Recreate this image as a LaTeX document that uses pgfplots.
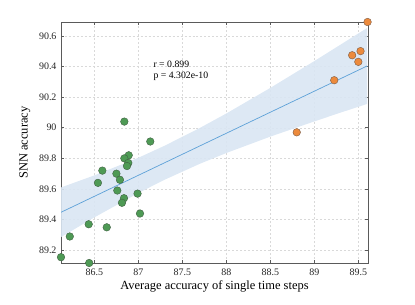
\documentclass[border=0pt]{standalone}
\usepackage{pgfplots}
\pgfplotsset{compat=1.18}
\usepackage{fontspec}
\setmainfont{Liberation Serif}
\usepgfplotslibrary{fillbetween}
\definecolor{ptgreen}{HTML}{4E9A55}
\definecolor{ptgreenedge}{HTML}{3F5F42}
\definecolor{ptorange}{HTML}{EC8A3C}
\definecolor{ptorangeedge}{HTML}{7A5A45}
\definecolor{fitline}{HTML}{5DA0D8}
\definecolor{band}{HTML}{D9E6F3}
\definecolor{axgray}{HTML}{5A5A5A}
\begin{document}
\begin{tikzpicture}
\begin{axis}[
  at={(0,0)}, anchor=south west,
  scale only axis, width=307bp, height=241bp,
  xmin=86.12, xmax=89.61, ymin=89.117, ymax=90.69,
  xtick={86.5,87,87.5,88,88.5,89,89.5},
  ytick={89.2,89.4,89.6,89.8,90,90.2,90.4,90.6},
  xticklabels={86.5,87,87.5,88,88.5,89,89.5},
  yticklabels={89.2,89.4,89.6,89.8,90,90.2,90.4,90.6},
  tick align=inside, tick pos=both,
  major tick length=3bp,
  tick style={axgray, line width=0.5pt},
  axis line style={axgray, line width=0.8pt},
  grid=major,
  major grid style={gray!30, dash pattern=on 2pt off 2pt, line width=0.4pt},
  ticklabel style={font=\fontsize{10}{11}\selectfont, text=black!85},
  xticklabel style={yshift=-2bp},
  yticklabel style={xshift=-1bp},
  xlabel={Average accuracy of single time steps},
  ylabel={SNN accuracy},
  label style={font=\fontsize{12.5}{14}\selectfont},
  xlabel style={yshift=1bp},
  ylabel style={yshift=2bp},
  clip mode=individual,
]
\addplot[name path=up, draw=none, forget plot] coordinates {
 (86.12,89.610) (86.5,89.689) (87.0,89.804) (87.3,89.883) (87.7,89.999)
 (88.0,90.093) (88.5,90.260) (89.0,90.435) (89.3,90.543) (89.6,90.651)};
\addplot[name path=lo, draw=none, forget plot] coordinates {
 (86.12,89.286) (86.5,89.415) (87.0,89.574) (87.3,89.661) (87.7,89.765)
 (88.0,89.835) (88.5,89.942) (89.0,90.041) (89.3,90.099) (89.6,90.155)};
\addplot[band, draw=none, fill opacity=0.9] fill between[of=up and lo];
\addplot[fitline, line width=0.7pt] coordinates {
 (86.12,89.448) (89.60,90.403)};
\addplot[only marks, mark=*, mark size=3.8bp, mark options={fill=ptgreen, draw=ptgreenedge, line width=0.4pt}] coordinates {
 (86.84,90.04) (87.135,89.91) (86.89,89.82) (86.84,89.80) (86.885,89.77)
 (86.87,89.75) (86.59,89.72) (86.75,89.70) (86.79,89.66) (86.54,89.64)
 (86.76,89.59) (86.99,89.57) (86.836,89.54) (86.813,89.51) (87.018,89.44)
 (86.435,89.37) (86.64,89.35) (86.22,89.29) (86.12,89.155) (86.44,89.117)};
\addplot[only marks, mark=*, mark size=3.8bp, mark options={fill=ptorange, draw=ptorangeedge, line width=0.4pt}] coordinates {
 (89.605,90.69) (89.525,90.50) (89.43,90.473) (89.50,90.43) (89.226,90.31) (88.80,89.97)};
\node[anchor=west, font=\fontsize{9.8}{11}\selectfont, align=left, inner sep=0pt] at (axis cs:87.17,90.37) {r = 0.899\\[0pt]p = 4.302e-10};
\end{axis}
\path[use as bounding box] (-61bp,-42bp) rectangle (354bp,263bp);
\end{tikzpicture}
\end{document}
